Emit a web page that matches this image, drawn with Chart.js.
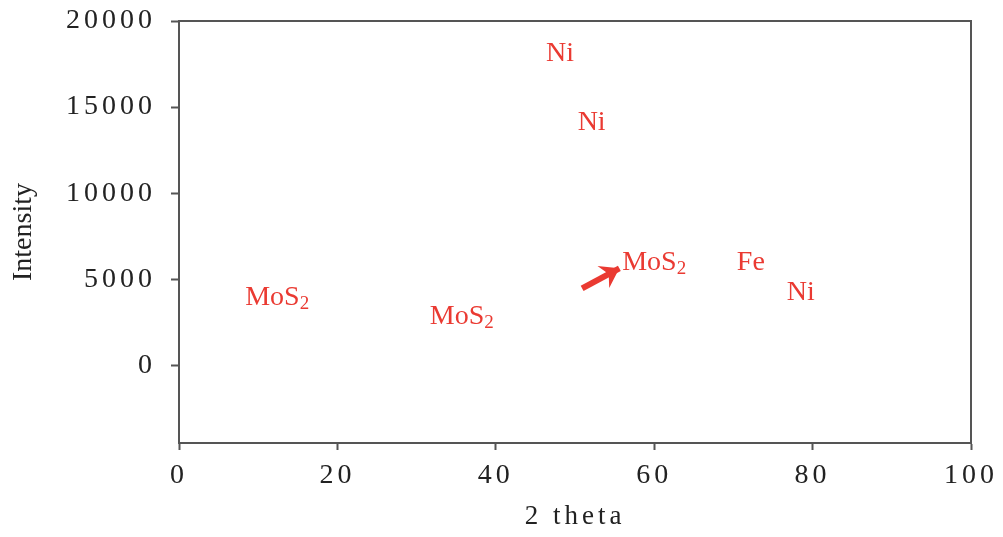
<!DOCTYPE html>
<html>
<head>
<meta charset="utf-8">
<script src="https://cdn.jsdelivr.net/npm/chart.js@4/dist/chart.umd.min.js"></script>
<style>
  html, body { margin: 0; padding: 0; background: #fff; }
  #wrap { width: 1003px; height: 537px; }
</style>
</head>
<body>
<div id="wrap"><canvas id="myChart" width="1003" height="537"></canvas></div>
<script>
    // Peak labels (text, 2 theta position, intensity position)
    const peakNames = ['Ni', 'Ni', 'MoS', 'MoS', 'MoS', 'Fe', 'Ni'];
    const peakSubs = ['', '', '2', '2', '2', '', ''];
    const peakX = [48.1, 52.1, 12.4, 35.7, 60.0, 72.2, 78.5];
    const peakY = [18100, 14100, 3950, 2850, 6000, 6000, 4250];

    // Arrow pointing at the MoS2 label near 60 degrees
    const arrowX = [50.9, 55.6];
    const arrowY = [4480, 5640];

    // Axis ticks
    const xTicks = [0, 20, 40, 60, 80, 100];
    const yTicks = [0, 5000, 10000, 15000, 20000];

    const red = '#ea3a32';
    const axisGrey = '#555555';
    const serif = '"Liberation Serif", "Times New Roman", serif';

    // Draws the frame, the arrow head and the peak labels
    const annotate = {
        id: 'annotate',
        beforeDraw(chart) {
            const ys = chart.scales.y;
            if (!ys._plainTitle) {
                const orig = ys.drawTitle.bind(ys);
                ys.drawTitle = function () {
                    const c = this.ctx;
                    const prev = c.letterSpacing;
                    c.letterSpacing = '0px';
                    orig();
                    c.letterSpacing = prev;
                };
                ys._plainTitle = true;
            }
            // axis text in the reference is set wide
            chart.ctx.letterSpacing = '4px';
        },
        beforeDatasetsDraw(chart) {
            chart.ctx.letterSpacing = '0px';
        },
        afterDraw(chart) {
            const ctx = chart.ctx;
            const a = chart.chartArea;
            const xs = chart.scales.x;
            const ys = chart.scales.y;
            ctx.save();
            ctx.letterSpacing = '0px';

            // frame top and right
            ctx.strokeStyle = axisGrey;
            ctx.lineWidth = 2;
            ctx.beginPath();
            ctx.moveTo(a.left, a.top);
            ctx.lineTo(a.right, a.top);
            ctx.lineTo(a.right, a.bottom);
            ctx.stroke();

            // arrow head
            const x0 = xs.getPixelForValue(arrowX[0]);
            const y0 = ys.getPixelForValue(arrowY[0]);
            const x1 = xs.getPixelForValue(arrowX[1]);
            const y1 = ys.getPixelForValue(arrowY[1]);
            const ang = Math.atan2(y1 - y0, x1 - x0);
            const len = 22, half = 0.6;
            ctx.fillStyle = red;
            ctx.beginPath();
            ctx.moveTo(x1, y1);
            ctx.lineTo(x1 - len * Math.cos(ang - half), y1 - len * Math.sin(ang - half));
            ctx.lineTo(x1 - len * 0.55 * Math.cos(ang), y1 - len * 0.55 * Math.sin(ang));
            ctx.lineTo(x1 - len * Math.cos(ang + half), y1 - len * Math.sin(ang + half));
            ctx.closePath();
            ctx.fill();

            // labels
            ctx.fillStyle = red;
            ctx.textBaseline = 'middle';
            ctx.textAlign = 'left';
            for (let i = 0; i < peakNames.length; i++) {
                const px = xs.getPixelForValue(peakX[i]);
                const py = ys.getPixelForValue(peakY[i]);
                ctx.font = '28px ' + serif;
                const w1 = ctx.measureText(peakNames[i]).width;
                ctx.font = '19px ' + serif;
                const w2 = peakSubs[i] ? ctx.measureText(peakSubs[i]).width : 0;
                const start = px - (w1 + w2) / 2;
                ctx.font = '28px ' + serif;
                ctx.fillText(peakNames[i], start, py);
                if (peakSubs[i]) {
                    ctx.font = '19px ' + serif;
                    ctx.fillText(peakSubs[i], start + w1, py + 7);
                }
            }
            ctx.restore();
        }
    };

    const ctx = document.getElementById('myChart').getContext('2d');
    const chart = new Chart(ctx, {
        type: 'scatter',
        data: {
            datasets: [
                {
                    label: 'arrow',
                    data: arrowX.map((x, i) => ({ x: x, y: arrowY[i] })),
                    showLine: true,
                    borderColor: red,
                    borderWidth: 6,
                    pointRadius: 0,
                },
            ],
        },
        options: {
            responsive: false,
            animation: false,
            devicePixelRatio: 1,
            layout: { padding: { top: 21, right: 32, left: 0, bottom: 0 } },
            plugins: {
                legend: { display: false },
                tooltip: { enabled: false },
            },
            scales: {
                x: {
                    type: 'linear',
                    min: 0,
                    max: 100,
                    afterBuildTicks: (s) => { s.ticks = xTicks.map(v => ({ value: v })); },
                    afterFit: (s) => { s.height = 94; s.paddingLeft = 0; s.paddingRight = 0; },
                    grid: { drawOnChartArea: false, tickLength: 7, tickColor: axisGrey, tickWidth: 2 },
                    border: { color: axisGrey, width: 2 },
                    ticks: { color: '#222', padding: 9, maxRotation: 0, callback: (v) => String(v), font: { family: serif, size: 28 } },
                    title: { display: true, text: '2 theta', color: '#222', padding: { top: 8 }, font: { family: serif, size: 27 } },
                },
                y: {
                    min: -4500,
                    max: 20000,
                    afterBuildTicks: (s) => { s.ticks = yTicks.map(v => ({ value: v })); },
                    afterFit: (s) => { s.width = 179; s.paddingTop = 0; s.paddingBottom = 0; },
                    grid: { drawOnChartArea: false, tickLength: 8, tickColor: axisGrey, tickWidth: 2 },
                    border: { color: axisGrey, width: 2 },
                    ticks: { color: '#222', padding: 15, callback: (v) => String(v), font: { family: serif, size: 28 } },
                    title: { display: true, text: 'Intensity', color: '#222', padding: { top: 7, bottom: 0 }, font: { family: serif, size: 28 } },
                },
            },
        },
        plugins: [annotate],
    });
</script>
</body>
</html>
